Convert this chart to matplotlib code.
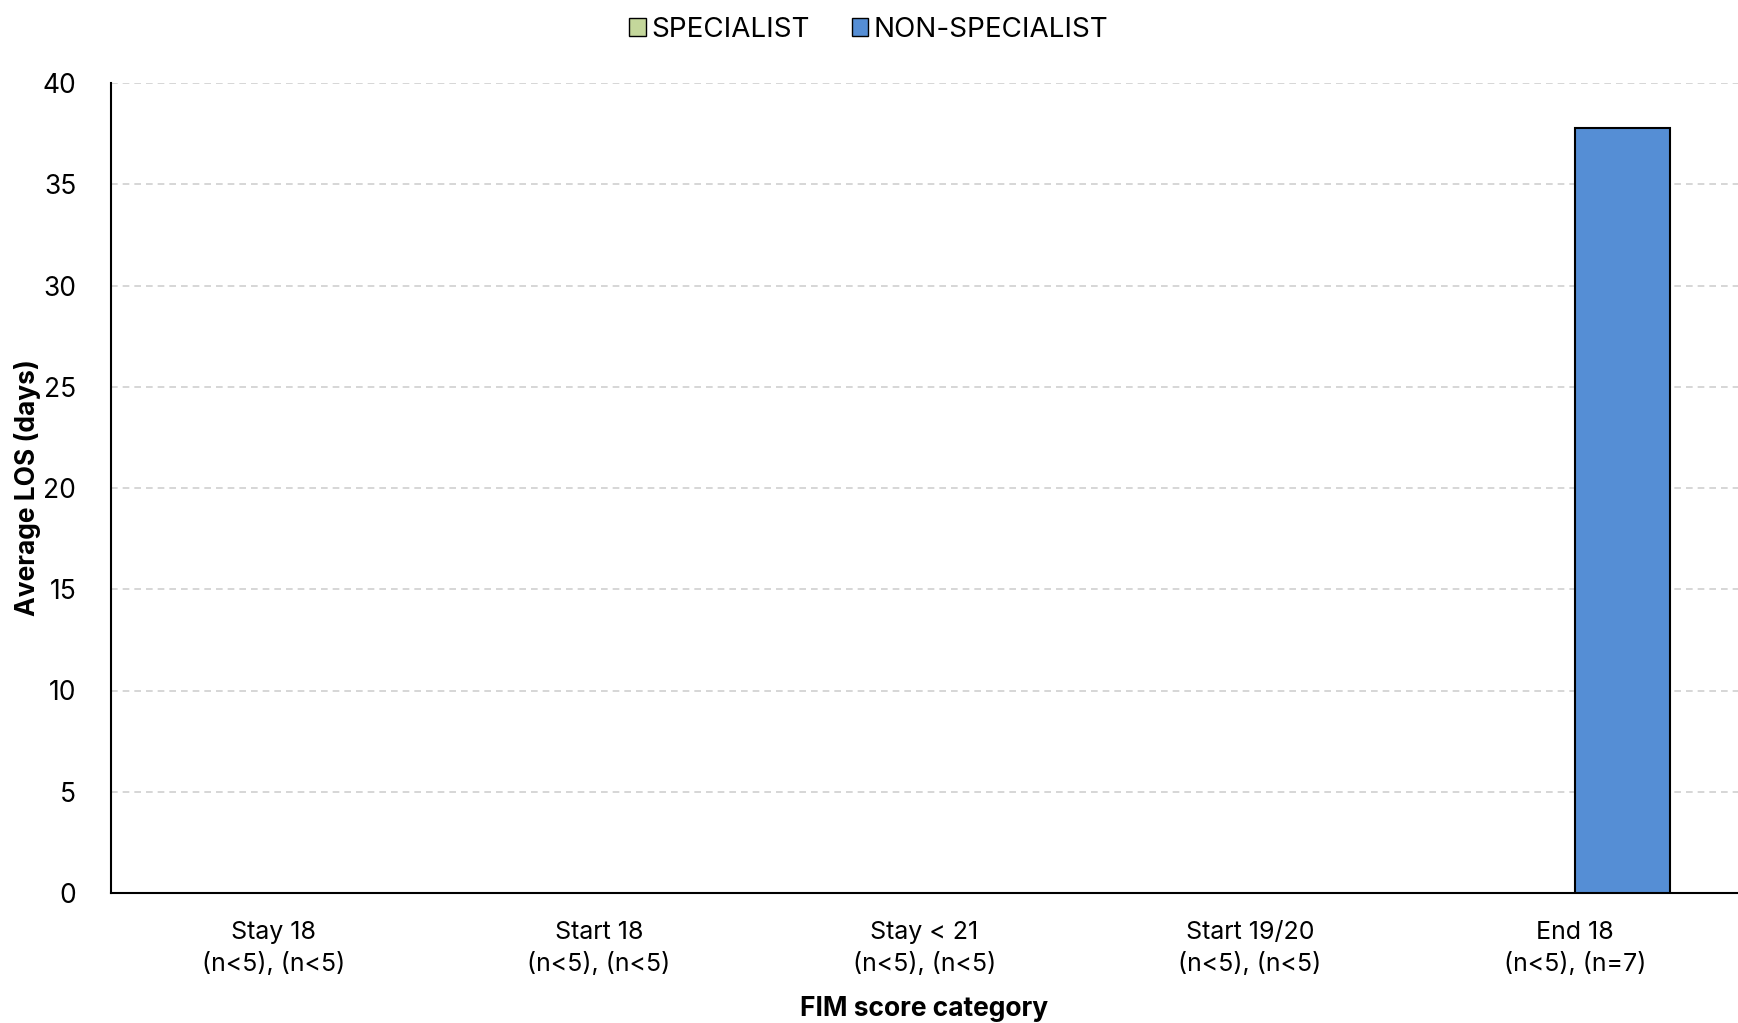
import numpy as np
import matplotlib
matplotlib.use("Agg")
import matplotlib.pyplot as plt
from matplotlib.patches import Patch

plt.rcParams['font.family'] = ['Inter', 'DejaVu Sans']

categories = ["Stay 18\n(n<5), (n<5)", "Start 18\n(n<5), (n<5)", "Stay < 21\n(n<5), (n<5)",
              "Start 19/20\n(n<5), (n<5)", "End 18\n(n<5), (n=7)"]
specialist = [np.nan, np.nan, np.nan, np.nan, np.nan]
non_specialist = [np.nan, np.nan, np.nan, np.nan, 37.8]
yticks = [0, 5, 10, 15, 20, 25, 30, 35, 40]

c_spec = "#C4D79B"
c_non = "#558ED5"

fig = plt.figure(figsize=(17.38, 10.23), dpi=100)
ax = fig.add_axes([111/1738, 1 - 893/1023, (1738 - 111)/1738, (893 - 83)/1023])

x = np.arange(len(categories))
w = 0.29
ax.bar(x - w/2, specialist, width=w, color=c_spec, edgecolor="black", linewidth=1.5, zorder=3)
ax.bar(x + w/2, non_specialist, width=w, color=c_non, edgecolor="black", linewidth=1.5, zorder=3)

ax.set_xlim(-0.5, len(categories) - 0.5)
ax.set_ylim(0, 40)
ax.set_yticks(yticks)
ax.set_xticks(x)
ax.set_xticklabels(categories, fontsize=18, linespacing=1.45)
ax.tick_params(axis='y', labelsize=19, length=0, pad=25)
ax.tick_params(axis='x', length=0, pad=20)
ax.yaxis.grid(True, linestyle=(0, (4, 3)), color="#D0D0D0", linewidth=1.2, zorder=0)
ax.set_axisbelow(True)
for s in ["top", "right"]:
    ax.spines[s].set_visible(False)
ax.spines["left"].set_linewidth(1.5)
ax.spines["bottom"].set_linewidth(1.5)

ax.set_ylabel("Average LOS (days)", fontsize=19, fontweight="bold")
ax.yaxis.set_label_coords(-0.043, 0.5)
ax.set_xlabel("FIM score category", fontsize=19, fontweight="bold", labelpad=14)

handles = [Patch(facecolor=c_spec, edgecolor="black", label="SPECIALIST"),
           Patch(facecolor=c_non, edgecolor="black", label="NON-SPECIALIST")]
fig.legend(handles=handles, loc="upper center", bbox_to_anchor=(0.5, 1.008), ncol=2, frameon=False,
           fontsize=20, handlelength=0.6, handleheight=0.6, handletextpad=0.2, columnspacing=1.5)

fig.savefig("out.png", dpi=100)
